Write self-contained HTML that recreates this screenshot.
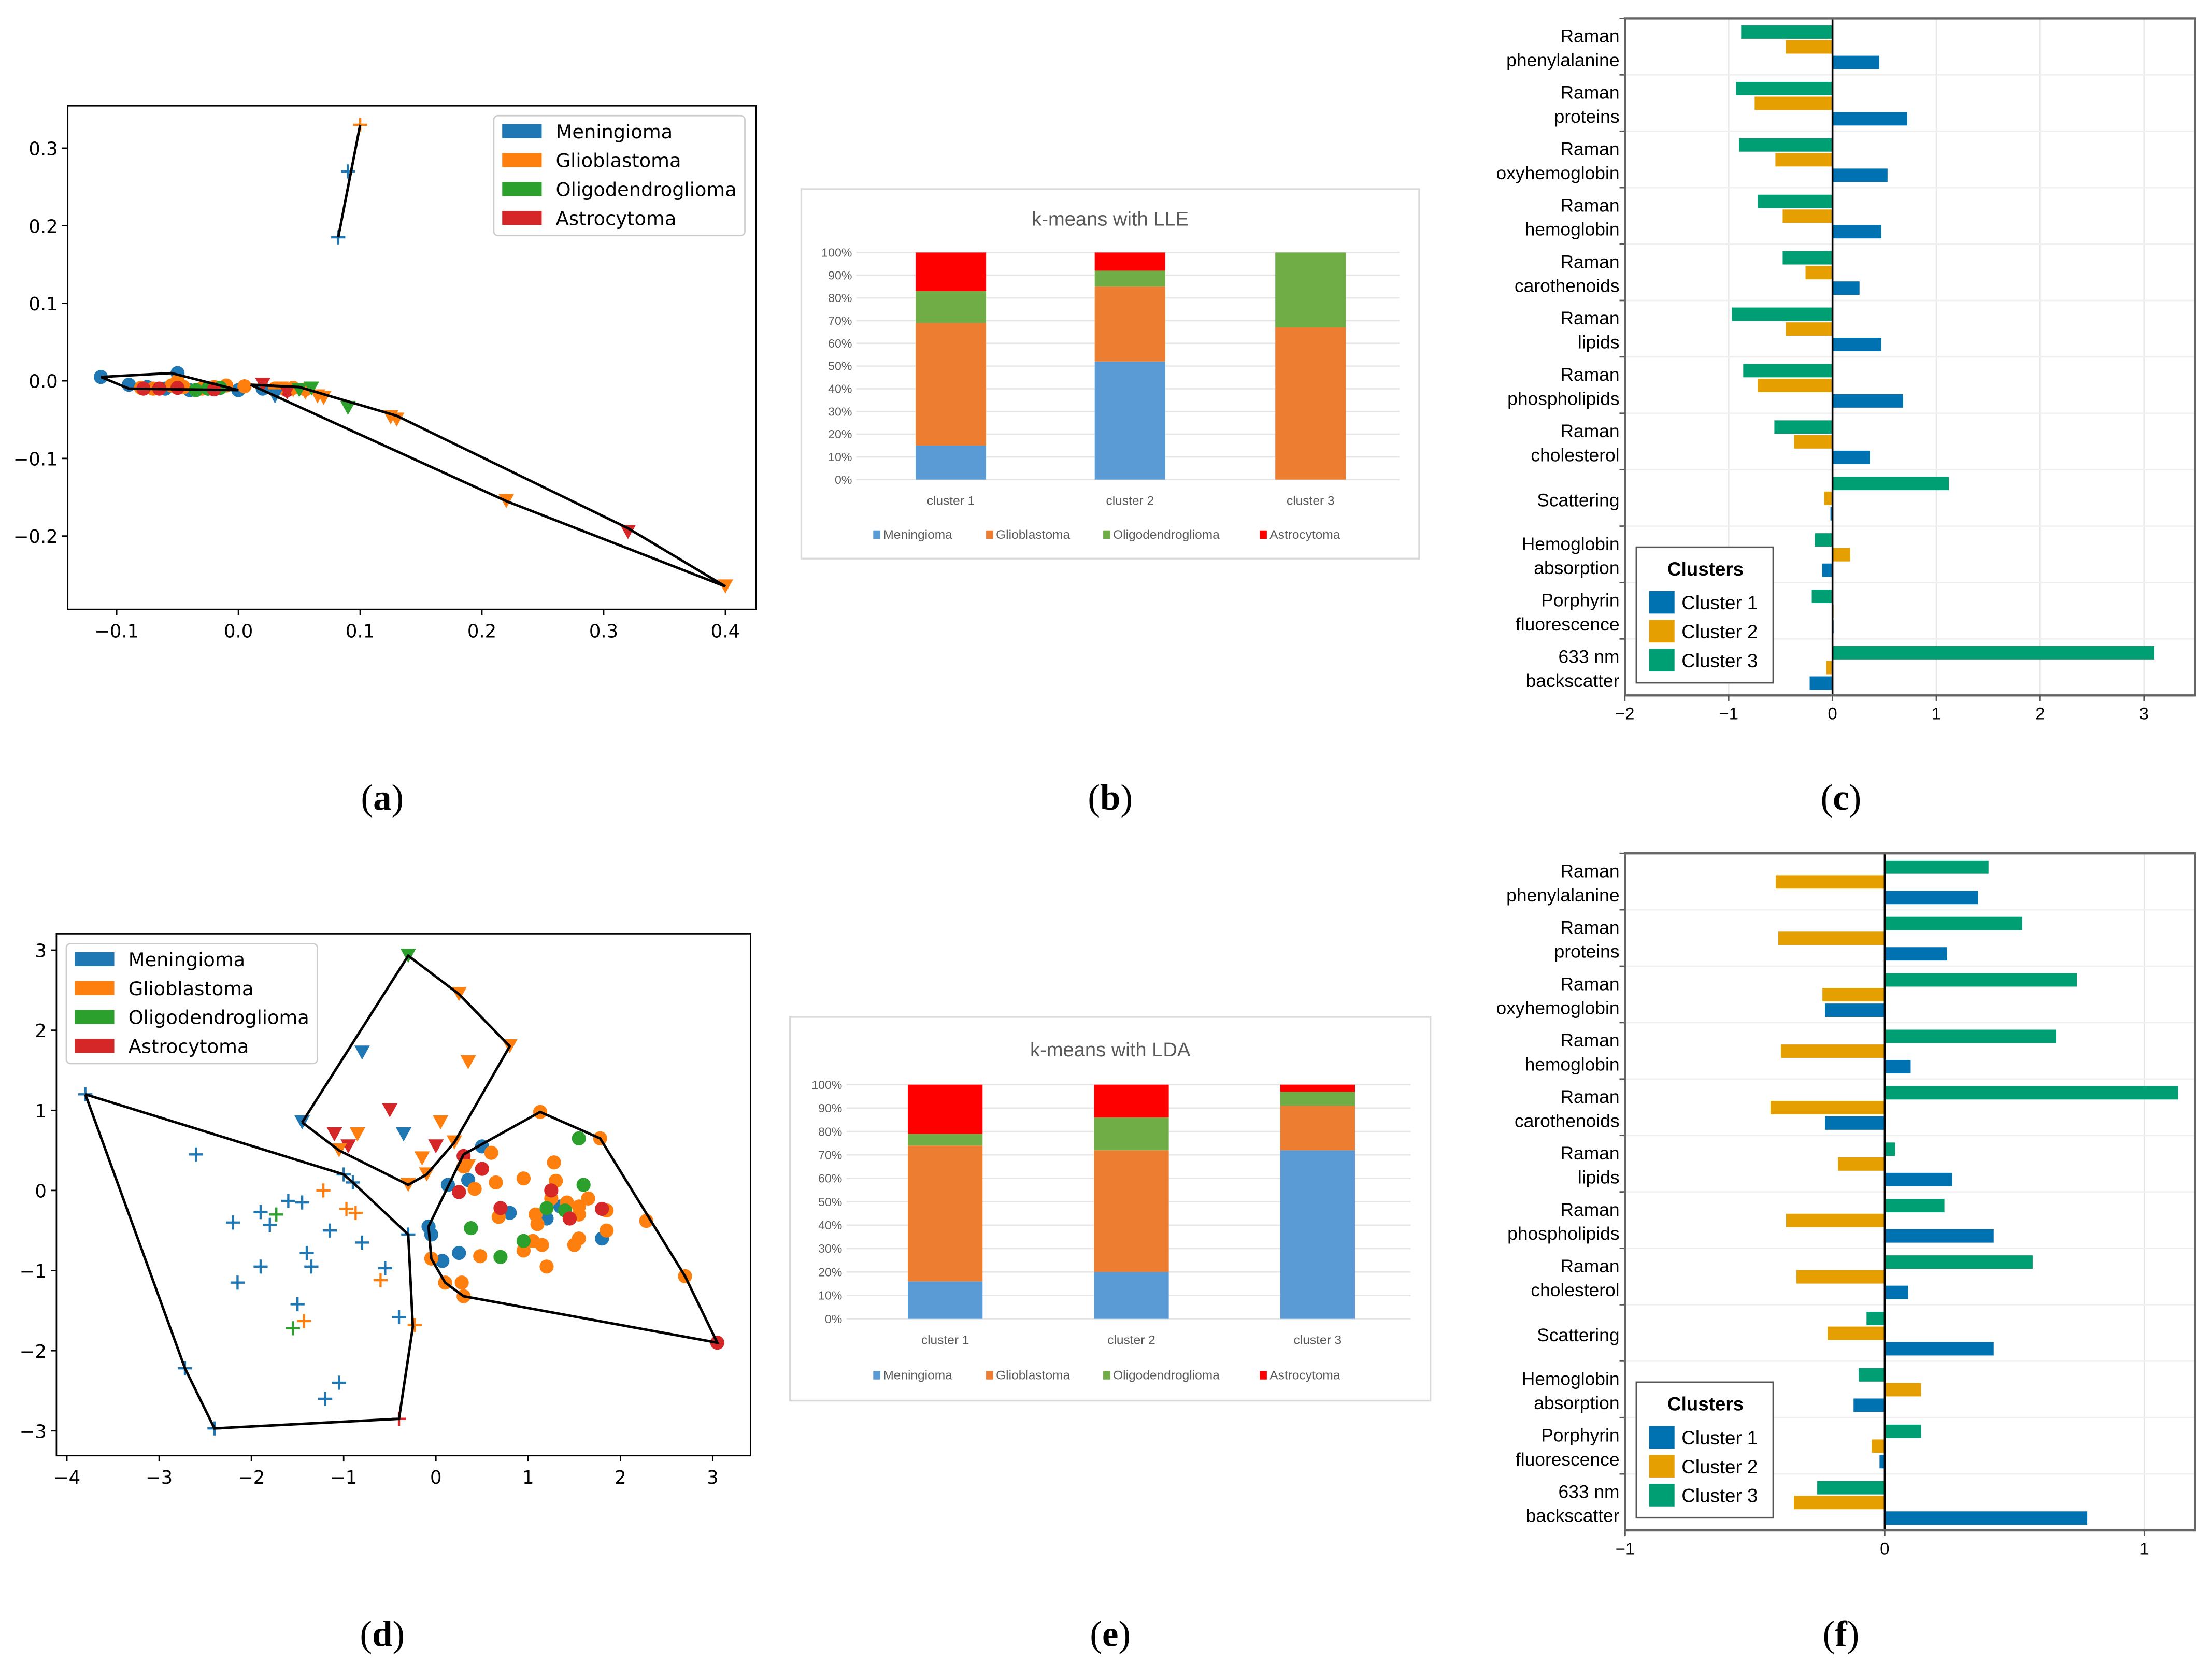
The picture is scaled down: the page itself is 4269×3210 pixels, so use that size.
<!DOCTYPE html>
<html><head><meta charset="utf-8"><style>
html,body{margin:0;padding:0;background:#fff;}
svg{display:block;}
</style></head><body>
<svg id="fig" width="4269" height="3210" viewBox="0 0 1568 1179" xmlns="http://www.w3.org/2000/svg" font-family="'DejaVu Sans','Liberation Sans',sans-serif">
<rect width="1568" height="1179" fill="#fff"/>
<g font-family="'Liberation Serif',serif" font-size="26" text-anchor="middle">
<text x="271" y="574">(<tspan font-weight="bold">a</tspan>)</text>
<text x="787" y="574">(<tspan font-weight="bold">b</tspan>)</text>
<text x="1305" y="574">(<tspan font-weight="bold">c</tspan>)</text>
<text x="271" y="1167">(<tspan font-weight="bold">d</tspan>)</text>
<text x="787" y="1167">(<tspan font-weight="bold">e</tspan>)</text>
<text x="1305" y="1167">(<tspan font-weight="bold">f</tspan>)</text>
</g>
</svg>
<script>
const NS="http://www.w3.org/2000/svg";
const svg=document.getElementById('fig');
function mk(tag,attrs,parent,text){const e=document.createElementNS(NS,tag);for(const k in attrs)e.setAttribute(k,attrs[k]);if(text!==undefined)e.textContent=text;(parent||svg).appendChild(e);return e;}
const tab=['#1f77b4','#ff7f0e','#2ca02c','#d62728'];
const classes=['Meningioma','Glioblastoma','Oligodendroglioma','Astrocytoma'];

// ---------- Panel (a) data ----------
const aXTicks=[-0.1,0.0,0.1,0.2,0.3,0.4];
const aYTicks=[0.3,0.2,0.1,0.0,-0.1,-0.2];
const aCircX=[-0.113,-0.09,-0.075,-0.05,-0.06,-0.04,-0.025,0.0,0.02,-0.08,-0.07,-0.055,-0.045,-0.03,-0.02,-0.01,0.005,0.03,0.045,0.055,-0.05,-0.035,-0.025,-0.015,-0.078,-0.065,-0.05,-0.02,0.04];
const aCircY=[0.005,-0.005,-0.008,0.01,-0.01,-0.012,-0.01,-0.012,-0.01,-0.009,-0.01,-0.006,-0.008,-0.01,-0.008,-0.006,-0.007,-0.01,-0.009,-0.011,0.0,-0.012,-0.01,-0.009,-0.01,-0.01,-0.009,-0.011,-0.012];
const aCircC=[0,0,0,0,0,0,0,0,0,1,1,1,1,1,1,1,1,1,1,1,1,2,2,2,3,3,3,3,3];
const aTriX=[0.02,0.035,0.045,0.055,0.065,0.07,0.03,0.06,0.09,0.125,0.13,0.22,0.4,0.32,0.04,0.05];
const aTriY=[-0.005,-0.01,-0.012,-0.015,-0.02,-0.022,-0.02,-0.01,-0.035,-0.047,-0.05,-0.155,-0.265,-0.195,-0.015,-0.012];
const aTriC=[3,1,1,1,1,1,0,2,2,1,1,1,1,3,3,2];
const aPlusX=[0.082,0.09,0.1];
const aPlusY=[0.185,0.27,0.33];
const aPlusC=[0,0,1];
const aLine1X=[0.082,0.1];const aLine1Y=[0.185,0.33];
const aHullX=[-0.113,-0.055,0.0,-0.09,-0.113];const aHullY=[0.005,0.01,-0.012,-0.01,0.005];
const aHull2X=[0.01,0.05,0.13,0.32,0.4,0.22,0.01];const aHull2Y=[-0.005,-0.008,-0.045,-0.19,-0.265,-0.155,-0.005];

// ---------- Panel (d) data ----------
const dXTicks=[-4,-3,-2,-1,0,1,2,3];
const dYTicks=[3,2,1,0,-1,-2,-3];
const dPlusX=[-3.8,-2.6,-2.2,-1.9,-1.8,-1.6,-1.45,-1.15,-1.4,-1.35,-0.8,-0.55,-1.9,-2.15,-1.5,-0.4,-1.05,-1.2,-1.0,-0.9,-0.3,-2.72,-2.4,-1.22,-0.97,-0.87,-0.6,-1.43,-0.23,-1.73,-1.55,-0.4];
const dPlusY=[1.2,0.45,-0.4,-0.27,-0.43,-0.13,-0.15,-0.5,-0.78,-0.95,-0.65,-0.97,-0.95,-1.15,-1.42,-1.58,-2.4,-2.6,0.2,0.1,-0.55,-2.22,-2.97,0.0,-0.23,-0.28,-1.12,-1.63,-1.68,-0.3,-1.72,-2.85];
const dPlusC=[0,0,0,0,0,0,0,0,0,0,0,0,0,0,0,0,0,0,0,0,0,0,0,1,1,1,1,1,1,2,2,3];
const dTriX=[-0.3,0.25,0.8,0.35,-0.8,-1.45,-0.35,-0.5,-1.1,-0.95,0.0,-0.85,-1.05,0.05,-0.15,0.2,-0.1,-0.3,0.35];
const dTriY=[2.93,2.45,1.8,1.6,1.72,0.85,0.7,1.0,0.7,0.55,0.55,0.7,0.5,0.85,0.4,0.6,0.2,0.07,0.3];
const dTriC=[2,1,1,1,0,0,0,3,3,3,3,1,1,1,1,1,1,1,1];
const dCircX=[-0.08,-0.05,0.13,0.35,0.5,0.25,0.07,0.8,1.2,1.8,1.35,0.3,0.6,0.65,0.95,1.28,1.3,1.25,1.42,1.55,1.65,1.85,1.08,1.45,1.55,0.68,0.48,0.95,1.15,1.2,1.55,1.85,2.28,2.7,1.13,1.78,0.1,0.28,0.3,-0.05,0.42,1.5,1.05,1.1,1.55,1.6,0.38,0.95,0.7,1.2,1.4,0.3,0.5,1.25,0.7,1.8,1.45,3.05,0.25];
const dCircY=[-0.45,-0.55,0.07,0.13,0.55,-0.78,-0.88,-0.28,-0.35,-0.6,-0.2,0.3,0.47,0.1,0.15,0.35,0.12,-0.1,-0.15,-0.2,-0.1,-0.5,-0.3,-0.35,-0.3,-0.33,-0.82,-0.75,-0.68,-0.95,-0.6,-0.25,-0.38,-1.07,0.98,0.65,-1.15,-1.15,-1.32,-0.85,0.02,-0.68,-0.63,-0.42,0.65,0.07,-0.47,-0.63,-0.83,-0.22,-0.25,0.43,0.27,0.0,-0.22,-0.23,-0.35,-1.9,-0.02];
const dCircC=[0,0,0,0,0,0,0,0,0,0,0,1,1,1,1,1,1,1,1,1,1,1,1,1,1,1,1,1,1,1,1,1,1,1,1,1,1,1,1,1,1,1,1,1,2,2,2,2,2,2,2,3,3,3,3,3,3,3,3];
const dHull1X=[-3.8,-1.0,-0.9,-0.3,-0.25,-0.4,-2.4,-2.72,-3.8];const dHull1Y=[1.2,0.2,0.1,-0.55,-1.7,-2.85,-2.97,-2.22,1.2];
const dHull2X=[-1.45,-0.3,0.25,0.8,0.2,-0.1,-0.3,-1.05,-1.45];const dHull2Y=[0.85,2.93,2.45,1.8,0.6,0.2,0.07,0.5,0.85];
const dHull3X=[0.3,1.13,1.78,2.7,3.05,0.3,0.1,-0.05,-0.08,0.3];const dHull3Y=[0.45,0.98,0.65,-1.07,-1.9,-1.32,-1.15,-0.85,-0.45,0.45];

function scatterPanel(o){
  const g=mk('g',{});
  
  
  const sx=v=>o.x0+(v-o.xv0)*o.xk, sy=v=>o.y0-(v-o.yv0)*o.yk;
  mk('rect',{x:o.L,y:o.T,width:o.R-o.L,height:o.B-o.T,fill:'#fff',stroke:'#000','stroke-width':1},g);
  o.xt.forEach(t=>{const x=sx(t);mk('line',{x1:x,x2:x,y1:o.B,y2:o.B+4,stroke:'#000'},g);
    const tx=mk('text',{x:x,y:o.B+20,'font-size':13,'text-anchor':'middle'},g,(t<0?'\u2212':'')+Math.abs(t).toFixed(o.dec));
    });
  o.yt.forEach(t=>{const y=sy(t);mk('line',{x1:o.L-4,x2:o.L,y1:y,y2:y,stroke:'#000'},g);
    const tx=mk('text',{x:o.L-7,y:y+5,'font-size':13,'text-anchor':'end'},g,(t<0?'\u2212':'')+Math.abs(t).toFixed(o.dec));
    });
  o.circ[0].forEach((v,i)=>{const c=mk('circle',{cx:sx(v),cy:sy(o.circ[1][i]),r:5,fill:tab[o.circ[2][i]]},g);
    });
  o.tri[0].forEach((v,i)=>{const x=sx(v),y=sy(o.tri[1][i]);const p=mk('polygon',{points:`${x-5.5},${y-5} ${x+5.5},${y-5} ${x},${y+5}`,fill:tab[o.tri[2][i]]},g);
    });
  o.plus[0].forEach((v,i)=>{const x=sx(v),y=sy(o.plus[1][i]);const p=mk('path',{d:`M${x-5},${y}H${x+5}M${x},${y-5}V${y+5}`,stroke:tab[o.plus[2][i]],'stroke-width':1.6},g);
    });
  o.lines.forEach(l=>{const pl=mk('polyline',{points:l[0].map((v,i)=>sx(v)+','+sy(l[1][i])).join(' '),fill:'none',stroke:'#000','stroke-width':1.8},g);
    });
  const lg=mk('g',{},g);
  mk('rect',{x:o.lx,y:o.ly,width:178,height:85,rx:3,fill:'#fff','fill-opacity':0.85,stroke:'#ccc'},lg);
  classes.forEach((c,i)=>{mk('rect',{x:o.lx+6,y:o.ly+6+i*20.5,width:28,height:10,fill:tab[i]},lg);
    const t=mk('text',{x:o.lx+44,y:o.ly+16+i*20.5,'font-size':13.5},lg,c);
    });
}
scatterPanel({name:'scatter-lle',L:48,R:536,T:75,B:432,x0:169,xv0:0,xk:863,y0:270,yv0:0,yk:550,xt:aXTicks,yt:aYTicks,dec:1,
  circ:[aCircX,aCircY,aCircC],tri:[aTriX,aTriY,aTriC],plus:[aPlusX,aPlusY,aPlusC],lines:[[aLine1X,aLine1Y],[aHullX,aHullY],[aHull2X,aHull2Y]],lx:350,ly:82});
scatterPanel({name:'scatter-lda',L:40,R:532,T:662,B:1032,x0:309,xv0:0,xk:65.4,y0:844,yv0:0,yk:56.8,xt:dXTicks,yt:dYTicks,dec:0,
  circ:[dCircX,dCircY,dCircC],tri:[dTriX,dTriY,dTriC],plus:[dPlusX,dPlusY,dPlusC],lines:[[dHull1X,dHull1Y],[dHull2X,dHull2Y],[dHull3X,dHull3Y]],lx:47,ly:669});

// ---------- Stacked bar panels (b),(e) ----------
const barCats=['cluster 1','cluster 2','cluster 3'];
const pctTicks=[0,10,20,30,40,50,60,70,80,90,100];
const lleMen=[15,52,0],lleGlio=[54,33,67],lleOligo=[14,7,33],lleAstro=[17,8,0];
const ldaMen=[16,20,72],ldaGlio=[58,52,19],ldaOligo=[5,14,6],ldaAstro=[21,14,3];
const xl=['#5b9bd5','#ed7d31','#70ad47','#ff0000'];
function stackPanel(o){
  const g=mk('g',{});
  mk('rect',{x:o.bx,y:o.by,width:o.bw,height:o.bh,fill:'#fff',stroke:'#d9d9d9','stroke-width':1.2},g);
  const t=mk('text',{x:o.bx+o.bw/2,y:o.ty,'font-size':14,'text-anchor':'middle',fill:'#595959','font-family':"'Liberation Sans',sans-serif"},g,o.title);
  
  const sy=v=>o.y0-(o.y0-o.y100)*v/100;
  pctTicks.forEach(p=>{mk('line',{x1:o.gl,x2:o.gr,y1:sy(p),y2:sy(p),stroke:'#e6e6e6','stroke-width':1},g);
    const tt=mk('text',{x:o.gl-3,y:sy(p)+3,'font-size':8.5,'text-anchor':'end',fill:'#595959','font-family':"'Liberation Sans',sans-serif"},g,p+'%');
    });
  const series=o.series;
  barCats.forEach((c,i)=>{let acc=0;const cx=o.cx[i];
    series.forEach((s,k)=>{const v=s[i];if(v>0){const r=mk('rect',{x:cx-o.w/2,y:sy(acc+v),width:o.w,height:sy(acc)-sy(acc+v),fill:xl[k]},g);
      }acc+=v;});
    const ct=mk('text',{x:cx,y:o.y0+18,'font-size':9,'text-anchor':'middle',fill:'#595959','font-family':"'Liberation Sans',sans-serif"},g,c);
    });
  const lx=[o.bx+o.bw/2-168,o.bx+o.bw/2-88,o.bx+o.bw/2-5,o.bx+o.bw/2+106];
  classes.forEach((c,k)=>{mk('rect',{x:lx[k],y:o.ly-6,width:5,height:6,fill:xl[k]},g);
    const lt=mk('text',{x:lx[k]+7,y:o.ly,'font-size':9,fill:'#595959','font-family':"'Liberation Sans',sans-serif"},g,c);
    });
}
stackPanel({name:'stacked-bar-lle',bx:568,by:134,bw:438,bh:262,title:'k-means with LLE',ty:160,gl:607,gr:992,y0:340,y100:179,cx:[674,801,929],w:50,ly:382,series:[lleMen,lleGlio,lleOligo,lleAstro]});
stackPanel({name:'stacked-bar-lda',bx:560,by:721,bw:454,bh:272,title:'k-means with LDA',ty:749,gl:600,gr:1000,y0:935,y100:769,cx:[670,802,934],w:53,ly:978,series:[ldaMen,ldaGlio,ldaOligo,ldaAstro]});

// ---------- Horizontal bar panels (c),(f) ----------
const features=[['Raman','phenylalanine'],['Raman','proteins'],['Raman','oxyhemoglobin'],['Raman','hemoglobin'],['Raman','carothenoids'],['Raman','lipids'],['Raman','phospholipids'],['Raman','cholesterol'],['','Scattering'],['Hemoglobin','absorption'],['Porphyrin','fluorescence'],['633 nm','backscatter']];
const cC1=[0.45,0.72,0.53,0.47,0.26,0.47,0.68,0.36,-0.02,-0.1,0.01,-0.22];
const cC2=[-0.45,-0.75,-0.55,-0.48,-0.26,-0.45,-0.72,-0.37,-0.08,0.17,0.0,-0.06];
const cC3=[-0.88,-0.93,-0.9,-0.72,-0.48,-0.97,-0.86,-0.56,1.12,-0.17,-0.2,3.1];
const cTicks=[-2,-1,0,1,2,3];
const fC1=[0.36,0.24,-0.23,0.1,-0.23,0.26,0.42,0.09,0.42,-0.12,-0.02,0.78];
const fC2=[-0.42,-0.41,-0.24,-0.4,-0.44,-0.18,-0.38,-0.34,-0.22,0.14,-0.05,-0.35];
const fC3=[0.4,0.53,0.74,0.66,1.13,0.04,0.23,0.57,-0.07,-0.1,0.14,-0.26];
const fTicks=[-1,0,1];
const cc=['#0072b2','#e69f00','#009e73'];
function hbarPanel(o){
  const g=mk('g',{});
  const sx=v=>o.x0+v*o.k;const rh=(o.B-o.T)/features.length;
  o.ticks.forEach(t=>{mk('line',{x1:sx(t),x2:sx(t),y1:o.T,y2:o.B,stroke:'#e8e8e8'},g);});
  features.forEach((f,i)=>{const y=o.T+i*rh;
    if(i>0)mk('line',{x1:o.L,x2:o.R,y1:y,y2:y,stroke:'#f0f0f0'},g);
    mk('line',{x1:o.L-4,x2:o.L,y1:y,y2:y,stroke:'#555'},g);
    const fa={'font-size':13,'text-anchor':'end','font-family':"'Liberation Sans',sans-serif"};
    if(f[0]){const a=mk('text',Object.assign({x:o.L-4,y:y+17},fa),g,f[0]);}
    const b=mk('text',Object.assign({x:o.L-4,y:f[0]?y+34:y+26},fa),g,f[1]);
    [[o.s3,5,2],[o.s2,15.5,1],[o.s1,26.5,0]].forEach(([s,off,ci])=>{const v=s[i];const x1=sx(Math.min(0,v)),x2=sx(Math.max(0,v));
      const r=mk('rect',{x:x1,y:y+off,width:Math.max(x2-x1,0.8),height:9.5,fill:cc[ci]},g);
      });
  });
  mk('line',{x1:sx(0),x2:sx(0),y1:o.T,y2:o.B,stroke:'#000','stroke-width':1.3},g);
  mk('rect',{x:o.L,y:o.T,width:o.R-o.L,height:o.B-o.T,fill:'none',stroke:'#666','stroke-width':1.6},g);
  o.ticks.forEach(t=>{mk('line',{x1:sx(t),x2:sx(t),y1:o.B,y2:o.B+4,stroke:'#555'},g);
    const tt=mk('text',{x:sx(t),y:o.B+17,'font-size':12,'text-anchor':'middle','font-family':"'Liberation Sans',sans-serif"},g,(t<0?'\u2212':'')+Math.abs(t));
    });
  const lg=mk('g',{},g);
  mk('rect',{x:o.lx,y:o.ly,width:97,height:96,fill:'#fff',stroke:'#555','stroke-width':1.2},lg);
  mk('text',{x:o.lx+49,y:o.ly+20,'font-size':13.5,'font-weight':'bold','text-anchor':'middle','font-family':"'Liberation Sans',sans-serif"},lg,'Clusters');
  ['Cluster 1','Cluster 2','Cluster 3'].forEach((c,i)=>{mk('rect',{x:o.lx+9,y:o.ly+31+i*20.5,width:18,height:16,fill:cc[i]},lg);
    const t=mk('text',{x:o.lx+32,y:o.ly+44+i*20.5,'font-size':13.5,'font-family':"'Liberation Sans',sans-serif"},lg,c);
    });
}
hbarPanel({name:'hbar-lle',L:1152,R:1556,T:13,B:493,x0:1299,k:73.6,ticks:cTicks,s1:cC1,s2:cC2,s3:cC3,lx:1160,ly:388});
hbarPanel({name:'hbar-lda',L:1152,R:1556,T:605,B:1085,x0:1336,k:184,ticks:fTicks,s1:fC1,s2:fC2,s3:fC3,lx:1160,ly:980});
</script>
</body></html>
